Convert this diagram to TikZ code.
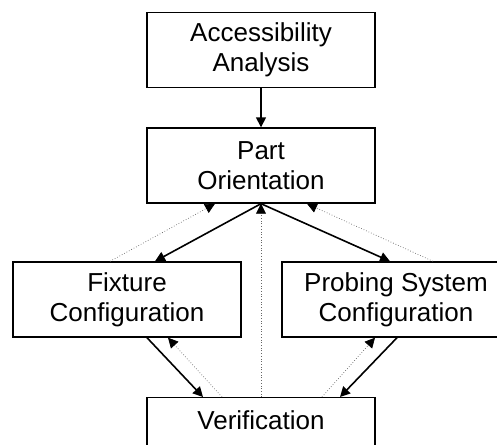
\documentclass[tikz,border=0pt]{standalone}
\usepackage{fontspec}
\setmainfont{Liberation Sans}
\usetikzlibrary{arrows.meta}

\begin{document}
\begin{tikzpicture}[
    x=1pt, y=1pt,
    every node/.style={align=center},
    block/.style={rectangle, draw=black, line width=1.4pt, minimum width=228pt, minimum height=75pt, inner sep=0pt, font=\fontsize{26}{30}\selectfont},
    flow/.style={-{Triangle[length=10pt,width=10pt]}, line width=1.6pt},
    feedback/.style={-{Triangle[length=10pt,width=10pt,color=black]}, draw=black!60, dotted, line width=0.7pt}
]
    \useasboundingbox (0,0) rectangle (497,444);
    \clip (0,0) rectangle (497,444);

    % Blocks
    \node[block] (access) at (261,394) {Accessibility\\Analysis};
    \node[block] (orient) at (261,278.5) {Part\\Orientation};
    \node[block] (fixture) at (127,144.5) {Fixture\\Configuration};
    \node[block] (probing) at (396,144.5) {Probing System\\Configuration};
    \node[block, anchor=north] (verify) at (261,47) {Verification\\\mbox{}};

    % Forward flow
    \draw[flow] (access) -- (orient);
    \draw[flow] (orient.south) -- ([xshift=28pt]fixture.north);
    \draw[flow] (orient.south) -- ([xshift=-6pt]probing.north);
    \draw[flow] ([xshift=20pt]fixture.south) -- ([xshift=-58pt]verify.north);
    \draw[flow] ([xshift=1pt]probing.south) -- ([xshift=79pt]verify.north);

    % Feedback
    \draw[feedback] ([xshift=-17pt]fixture.north) -- ([xshift=-46pt]orient.south);
    \draw[feedback] ([xshift=37pt]probing.north) -- ([xshift=46pt]orient.south);
    \draw[feedback] (verify.north) -- (orient.south);
    \draw[feedback] ([xshift=-39pt]verify.north) -- ([xshift=41pt]fixture.south);
    \draw[feedback] ([xshift=61pt]verify.north) -- ([xshift=-21pt]probing.south);
\end{tikzpicture}
\end{document}
